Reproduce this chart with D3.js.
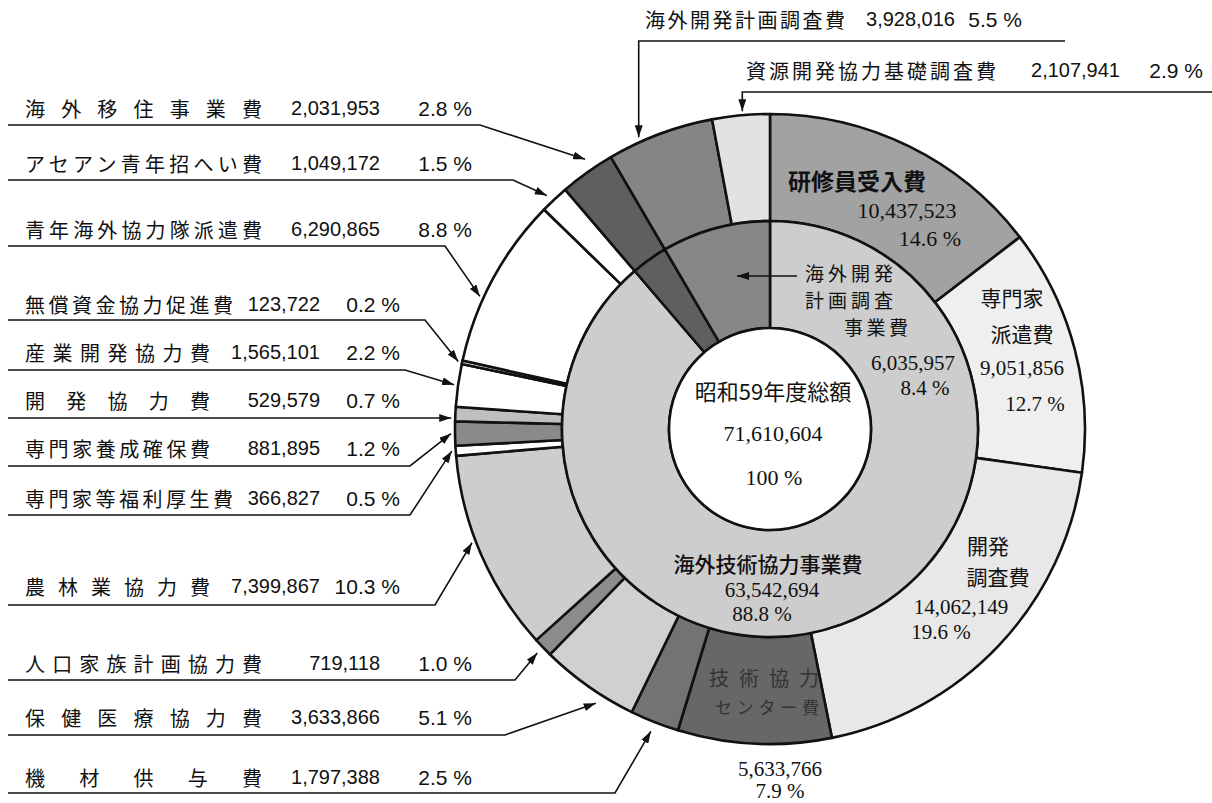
<!DOCTYPE html>
<html>
<head>
<meta charset="utf-8">
<script src="https://cdn.jsdelivr.net/npm/d3@7"></script>
<style>
  body { margin: 0; background: #fff; }
  text { font-family: "Noto Sans CJK JP", sans-serif; fill: #111; }
  .num { font-family: "Liberation Serif", "Noto Sans CJK JP", serif; }
  .lnum { font-family: "Liberation Sans", "Noto Sans CJK JP", sans-serif; }
</style>
</head>
<body>
<svg id="chart" width="1212" height="803"></svg>
<script>
// outer ring, clockwise from 12 o'clock
const outerNames = [
  "研修員受入費", "専門家派遣費", "開発調査費", "技術協力センター費", "機材供与費",
  "保健医療協力費", "人口家族計画協力費", "農林業協力費", "専門家等福利厚生費",
  "専門家養成確保費", "開発協力費", "産業開発協力費", "無償資金協力促進費",
  "青年海外協力隊派遣費", "アセアン青年招へい費", "海外移住事業費",
  "海外開発計画調査費", "資源開発協力基礎調査費"
];
const outerValues = [
  10437523, 9051856, 14062149, 5633766, 1797388,
  3633866, 719118, 7399867, 366827,
  881895, 529579, 1565101, 123722,
  6290865, 1049172, 2031953,
  3928016, 2107941
];
const outerPct = [14.6, 12.7, 19.6, 7.9, 2.5, 5.1, 1.0, 10.3, 0.5, 1.2, 0.7, 2.2, 0.2, 8.8, 1.5, 2.8, 5.5, 2.9];
const outerFill = [
  "#a2a2a2", "#efefef", "#e8e8e8", "#676767", "#737373",
  "#d0d0d0", "#8c8c8c", "#cdcdcd", "#ffffff",
  "#8a8a8a", "#bfbfbf", "#ffffff", "#ffffff",
  "#ffffff", "#ffffff", "#5f5f5f",
  "#858585", "#e2e2e2"
];

// inner ring, clockwise from 12 o'clock
const innerNames = ["海外技術協力事業費", "海外移住事業費", "海外開発計画調査事業費"];
const innerValues = [63542694, 2031953, 6035957];
const innerPct = [88.8, 2.8, 8.4];
const innerFill = ["#cdcdcd", "#5f5f5f", "#878787"];

const totalLabel = "昭和59年度総額";
const totalValue = 71610604;
const totalPct = 100;

const cx = 770, cy = 429;
const rOuter = 315, rMid = 208, rCenter = 101;

const fmt = d3.format(",");
const pctText = p => (p === 100 ? "100" : p.toFixed(1)) + " %";

const svg = d3.select("#chart");

svg.append("defs").append("marker")
  .attr("id", "arrow")
  .attr("viewBox", "0 0 12 8")
  .attr("refX", 12).attr("refY", 4)
  .attr("markerWidth", 12).attr("markerHeight", 8)
  .attr("markerUnits", "userSpaceOnUse")
  .attr("orient", "auto")
  .append("path")
  .attr("d", "M0,0 L12,4 L0,8 z")
  .attr("fill", "#111");

const ringG = svg.append("g").attr("transform", `translate(${cx},${cy})`);

const pie = d3.pie().sort(null).value(d => d);
const outerArcs = pie(outerValues);
const innerArcs = pie(innerValues);

const outerArc = d3.arc().innerRadius(rMid).outerRadius(rOuter);
const innerArc = d3.arc().innerRadius(rCenter).outerRadius(rMid);

ringG.selectAll("path.outer")
  .data(outerArcs)
  .enter().append("path")
  .attr("class", "outer")
  .attr("d", outerArc)
  .attr("fill", (d, i) => outerFill[i])
  .attr("stroke", "#111")
  .attr("stroke-width", 2.6)
  .attr("stroke-linejoin", "round");

ringG.selectAll("path.inner")
  .data(innerArcs)
  .enter().append("path")
  .attr("class", "inner")
  .attr("d", innerArc)
  .attr("fill", (d, i) => innerFill[i])
  .attr("stroke", "#111")
  .attr("stroke-width", 2.6);

ringG.append("circle")
  .attr("r", rCenter)
  .attr("fill", "#fff")
  .attr("stroke", "#111")
  .attr("stroke-width", 2.6);

// point on the ring (relative to svg) for slice i at fraction f of its span
function ringPoint(i, f, r) {
  const a = outerArcs[i].startAngle + (outerArcs[i].endAngle - outerArcs[i].startAngle) * f;
  return [cx + r * Math.sin(a), cy - r * Math.cos(a)];
}

// left side labels
const leftRows = [
  { i: 15, ty: 108, ly: 125, ex: 480, nw: 237, nx: 380, px: 472, f: 0.6, gap: 12 },
  { i: 14, ty: 163, ly: 180, ex: 513, nw: 237, nx: 380, px: 472, f: 0.4, gap: 8 },
  { i: 13, ty: 229, ly: 246, ex: 445, nw: 237, nx: 380, px: 472, f: 0.38, gap: 4 },
  { i: 12, ty: 304, ly: 320, ex: 425, nw: 208, nx: 320, px: 400, f: 0.5, gap: 4 },
  { i: 11, ty: 352, ly: 370, ex: 405, nw: 185, nx: 320, px: 400, f: 0.5, gap: 4 },
  { i: 10, ty: 400, ly: 418, ex: null, nw: 185, nx: 320, px: 400, f: 0.3, gap: 4 },
  { i: 9,  ty: 448, ly: 466, ex: 410, nw: 185, nx: 320, px: 400, f: 0.5, gap: 4 },
  { i: 8,  ty: 498, ly: 515, ex: 410, nw: 208, nx: 320, px: 400, f: 0.5, gap: 4 },
  { i: 7,  ty: 586, ly: 605, ex: 435, nw: 185, nx: 320, px: 400, f: 0.57, gap: 4 },
  { i: 6,  ty: 663, ly: 680, ex: 515, nw: 237, nx: 380, px: 472, f: 0.5, gap: 8 },
  { i: 5,  ty: 717, ly: 735, ex: 505, nw: 237, nx: 380, px: 472, f: 0.35, gap: 10 },
  { i: 4,  ty: 777, ly: 793, ex: 615, nw: 237, nx: 380, px: 472, f: 0.5, gap: 10 }
];

const leftG = svg.append("g");
leftRows.forEach(r => {
  leftG.append("text")
    .attr("x", 25).attr("y", r.ty)
    .attr("dominant-baseline", "central")
    .attr("font-size", 20)
    .attr("textLength", r.nw)
    .attr("lengthAdjust", "spacing")
    .text(outerNames[r.i]);
  leftG.append("text")
    .attr("class", "lnum")
    .attr("x", r.nx).attr("y", r.ty)
    .attr("dominant-baseline", "central")
    .attr("text-anchor", "end")
    .attr("font-size", 20)
    .text(fmt(outerValues[r.i]));
  leftG.append("text")
    .attr("class", "lnum")
    .attr("x", r.px).attr("y", r.ty)
    .attr("dominant-baseline", "central")
    .attr("text-anchor", "end")
    .attr("font-size", 21)
    .text(pctText(outerPct[r.i]));

  const tip = ringPoint(r.i, r.f, rOuter + r.gap);
  const pts = r.ex === null
    ? [[8, r.ly], [tip[0], r.ly]]
    : [[8, r.ly], [r.ex, r.ly], tip];
  leftG.append("path")
    .attr("d", d3.line()(pts))
    .attr("fill", "none")
    .attr("stroke", "#111")
    .attr("stroke-width", 1.6)
    .attr("marker-end", "url(#arrow)");
});

// top labels (vertical leaders)
const topRows = [
  { i: 16, tx: 645, ty: 19, ly: 41, lx2: 1065, nw: 200, nx: 955, px: 1022, f: 0.31, gap: 5 },
  { i: 17, tx: 746, ty: 70, ly: 92, lx2: 1212, nw: 250, nx: 1120, px: 1203, f: 0.53, gap: 4 }
];
const topG = svg.append("g");
topRows.forEach(r => {
  topG.append("text")
    .attr("x", r.tx).attr("y", r.ty)
    .attr("dominant-baseline", "central")
    .attr("font-size", 20)
    .attr("textLength", r.nw)
    .attr("lengthAdjust", "spacing")
    .text(outerNames[r.i]);
  topG.append("text")
    .attr("class", "lnum")
    .attr("x", r.nx).attr("y", r.ty)
    .attr("dominant-baseline", "central")
    .attr("text-anchor", "end")
    .attr("font-size", 20)
    .text(fmt(outerValues[r.i]));
  topG.append("text")
    .attr("class", "lnum")
    .attr("x", r.px).attr("y", r.ty)
    .attr("dominant-baseline", "central")
    .attr("text-anchor", "end")
    .attr("font-size", 21)
    .text(pctText(outerPct[r.i]));
  const tip = ringPoint(r.i, r.f, rOuter + r.gap);
  topG.append("path")
    .attr("d", d3.line()([[r.lx2, r.ly], [tip[0], r.ly], [tip[0], tip[1]]]))
    .attr("fill", "none")
    .attr("stroke", "#111")
    .attr("stroke-width", 1.6)
    .attr("marker-end", "url(#arrow)");
});

// labels inside the rings
const insideG = svg.append("g");
function put(x, y, txt, size, cls, opts = {}) {
  const t = insideG.append("text")
    .attr("x", x).attr("y", y)
    .attr("text-anchor", opts.anchor || "middle")
    .attr("dominant-baseline", "central")
    .attr("font-size", size)
    .text(txt);
  if (cls) t.attr("class", cls);
  if (opts.weight) t.attr("font-weight", opts.weight);
  if (opts.fill) t.style("fill", opts.fill);
  if (opts.tl) t.attr("textLength", opts.tl).attr("lengthAdjust", "spacing");
  return t;
}

// 研修員受入費
put(857, 180, outerNames[0], 23, null, { weight: 700 });
put(907, 210, fmt(outerValues[0]), 22, "num");
put(930, 238, pctText(outerPct[0]), 22, "num");
// 専門家派遣費
put(1012, 297, "専門家", 21);
put(1022, 333, "派遣費", 21);
put(1022, 368, fmt(outerValues[1]), 21, "num");
put(1035, 404, pctText(outerPct[1]), 21, "num");
// 開発調査費
put(988, 545, "開発", 21);
put(998, 576, "調査費", 21);
put(961, 607, fmt(outerValues[2]), 21, "num");
put(941, 632, pctText(outerPct[2]), 21, "num");
// 技術協力センター費
put(764, 677, "技術協力", 20, null, { fill: "#333", tl: 110 });
put(767, 706, "センター費", 17, null, { fill: "#333", tl: 104 });
put(780, 769, fmt(outerValues[3]), 21, "num");
put(780, 791, pctText(outerPct[3]), 21, "num");

// inner ring
put(849, 272, "海外開発", 19, null, { tl: 88 });
put(849, 299, "計画調査", 19, null, { tl: 88 });
put(876, 326, "事業費", 19, null, { tl: 64 });
put(913, 363, fmt(innerValues[2]), 21, "num");
put(925, 388, pctText(innerPct[2]), 21, "num");
insideG.append("path")
  .attr("d", d3.line()([[797, 276], [737, 276]]))
  .attr("stroke", "#111")
  .attr("stroke-width", 1.6)
  .attr("marker-end", "url(#arrow)");

put(768, 563, innerNames[0], 21, null, { weight: 500 });
put(772, 590, fmt(innerValues[0]), 21, "num");
put(762, 614, pctText(innerPct[0]), 21, "num");

// centre
put(773, 390, totalLabel, 22);
put(773, 433, fmt(totalValue), 22, "num");
put(774, 477, pctText(totalPct), 22, "num");
</script>
</body>
</html>
